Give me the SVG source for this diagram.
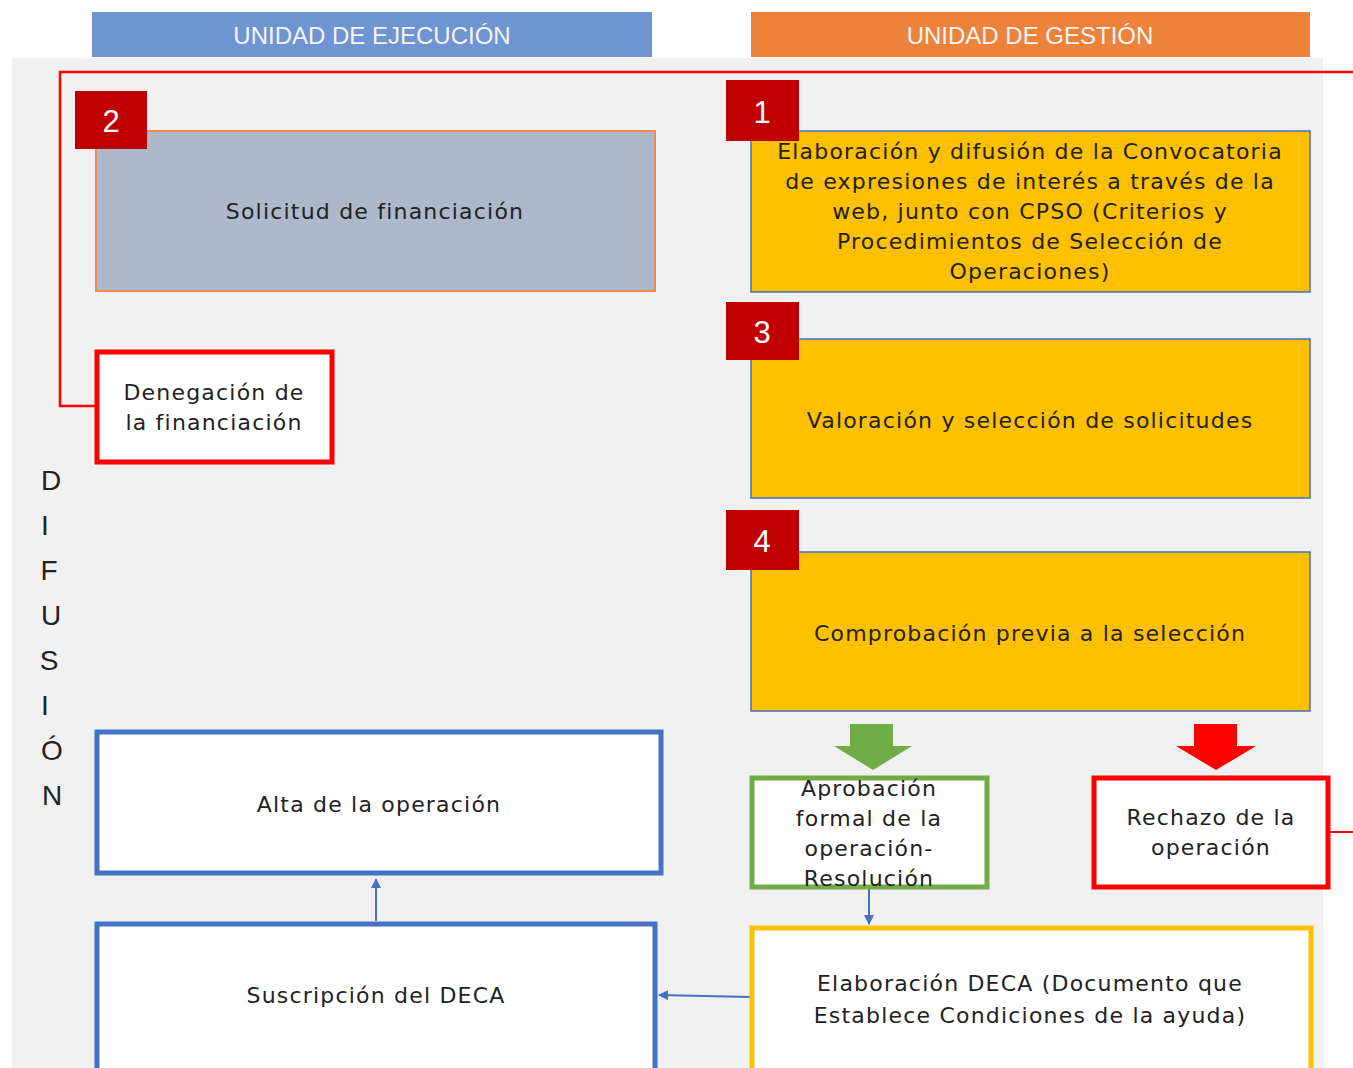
<svg xmlns="http://www.w3.org/2000/svg" width="1353" height="1068" viewBox="0 0 1353 1068">
<defs>
<style>
.hdr{font-family:"Liberation Sans",Arial,sans-serif;font-size:24px;fill:#f4f4f4;text-anchor:middle}
.t{font-family:"DejaVu Sans","Liberation Sans",sans-serif;font-size:22px;letter-spacing:1.2px;fill:#222;text-anchor:middle}
.num{font-family:"Liberation Sans",Arial,sans-serif;font-size:31px;fill:#fff;text-anchor:middle}
.badge{fill:#c00000}
.gold{fill:#ffc000;stroke:#4472c4;stroke-width:1.5}
.wb{fill:#fff;stroke-width:5}
.dif{font-family:"Liberation Sans",Arial,sans-serif;font-size:28px;fill:#222;text-anchor:middle}
.conn{stroke:#4472c4;stroke-width:2;fill:none}
</style>
<marker id="ah" viewBox="0 0 10 10" refX="9" refY="5" markerWidth="5" markerHeight="5" orient="auto-start-reverse">
<path d="M0,0 L10,5 L0,10 z" fill="#4472c4"/>
</marker>
</defs>
<rect x="0" y="0" width="1353" height="1068" fill="#fff"/>
<rect x="12" y="58" width="1311" height="1010" fill="#f1f1f1"/>

<g id="header-ejecucion">
<rect x="92" y="12" width="560" height="45" fill="#6f94d2"/>
<text class="hdr" x="372" y="44">UNIDAD DE EJECUCIÓN</text>
</g>
<g id="header-gestion">
<rect x="751" y="12" width="559" height="45" fill="#ed833b"/>
<text class="hdr" x="1030" y="44">UNIDAD DE GESTIÓN</text>
</g>

<g id="connectors">
<polyline points="1353,72 60,72 60,406 96,406" fill="none" stroke="#ff0000" stroke-width="2.5"/>
<line x1="1330" y1="832" x2="1353" y2="832" stroke="#ff0000" stroke-width="2"/>
<line class="conn" x1="869" y1="888" x2="869" y2="924" marker-end="url(#ah)"/>
<line class="conn" x1="750" y1="997" x2="659" y2="995" marker-end="url(#ah)"/>
<line class="conn" x1="376" y1="921" x2="376" y2="879" marker-end="url(#ah)"/>
<polygon id="green-arrow" points="850,724 893,724 893,746 912,746 873,770 834,746 850,746" fill="#70ad47"/>
<polygon id="red-arrow" points="1194,724 1237,724 1237,746 1256,746 1216,770 1176,746 1194,746" fill="#ff0000"/>
</g>

<g id="node-solicitud">
<rect x="96" y="131" width="559" height="160" fill="#adb9ca" stroke="#ed8b4e" stroke-width="2"/>
<text class="t" x="375" y="219">Solicitud de financiación</text>
<rect class="badge" x="75" y="91" width="72" height="58"/>
<text class="num" x="111" y="132">2</text>
</g>

<g id="node-convocatoria">
<rect class="gold" x="751" y="131" width="559" height="161"/>
<text class="t" x="1030" y="159">Elaboración y difusión de la Convocatoria</text>
<text class="t" x="1030" y="189">de expresiones de interés a través de la</text>
<text class="t" x="1030" y="219">web, junto con CPSO (Criterios y</text>
<text class="t" x="1030" y="249">Procedimientos de Selección de</text>
<text class="t" x="1030" y="279">Operaciones)</text>
<rect class="badge" x="726" y="80" width="73" height="61"/>
<text class="num" x="762" y="123">1</text>
</g>

<g id="node-valoracion">
<rect class="gold" x="751" y="339" width="559" height="159"/>
<text class="t" x="1030" y="428">Valoración y selección de solicitudes</text>
<rect class="badge" x="726" y="302" width="73" height="58"/>
<text class="num" x="762" y="343">3</text>
</g>

<g id="node-comprobacion">
<rect class="gold" x="751" y="552" width="559" height="159"/>
<text class="t" x="1030" y="641">Comprobación previa a la selección</text>
<rect class="badge" x="726" y="510" width="73" height="60"/>
<text class="num" x="762" y="552">4</text>
</g>

<g id="node-denegacion">
<rect class="wb" x="97" y="352" width="235" height="110" stroke="#ff0000"/>
<text class="t" x="214" y="400">Denegación de</text>
<text class="t" x="214" y="430">la financiación</text>
</g>

<g id="difusion">
<text class="dif" x="51" y="490">D</text>
<text class="dif" x="45" y="535">I</text>
<text class="dif" x="49" y="580">F</text>
<text class="dif" x="51" y="625">U</text>
<text class="dif" x="49" y="670">S</text>
<text class="dif" x="45" y="715">I</text>
<text class="dif" x="52" y="760">Ó</text>
<text class="dif" x="52" y="805">N</text>
</g>

<g id="node-alta">
<rect class="wb" x="97" y="732" width="564" height="141" stroke="#4472c4"/>
<text class="t" x="379" y="812">Alta de la operación</text>
</g>

<g id="node-aprobacion">
<rect class="wb" x="752" y="778" width="235" height="109" stroke="#70ad47"/>
<text class="t" x="869" y="796">Aprobación</text>
<text class="t" x="869" y="826">formal de la</text>
<text class="t" x="869" y="856">operación-</text>
<text class="t" x="869" y="886">Resolución</text>
</g>

<g id="node-rechazo">
<rect class="wb" x="1094" y="778" width="234" height="109" stroke="#ff0000"/>
<text class="t" x="1211" y="825">Rechazo de la</text>
<text class="t" x="1211" y="855">operación</text>
</g>

<g id="node-suscripcion">
<rect class="wb" x="97" y="924" width="558" height="150" stroke="#4472c4"/>
<text class="t" x="376" y="1003">Suscripción del DECA</text>
</g>

<g id="node-deca">
<rect class="wb" x="752" y="928" width="559" height="146" stroke="#ffc000"/>
<text class="t" x="1030" y="991">Elaboración DECA (Documento que</text>
<text class="t" x="1030" y="1023">Establece Condiciones de la ayuda)</text>
</g>
</svg>
